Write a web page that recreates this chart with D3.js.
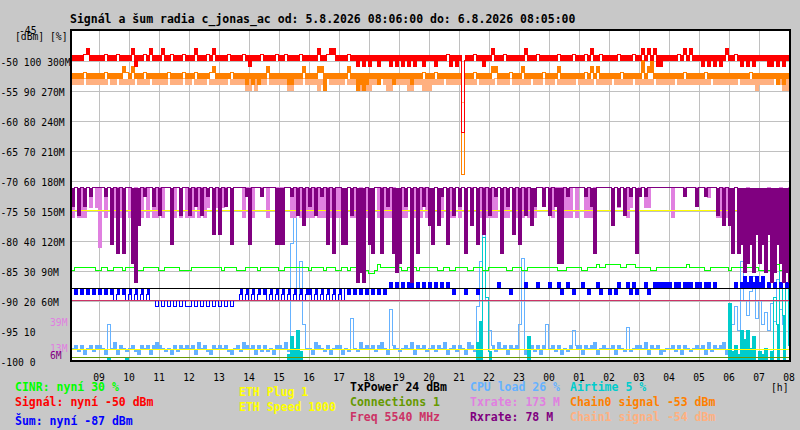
<!DOCTYPE html>
<html>
<head>
<meta charset="utf-8">
<script src="https://cdn.jsdelivr.net/npm/d3@7"></script>
<style>
  body { margin: 0; background: #c8c8c8; }
  text { font-family: "DejaVu Sans Mono", monospace; }
</style>
</head>
<body>
<svg id="chart" width="800" height="430"></svg>
<script>
// one sample every 6 minutes, 08:06 -> 08:06 next day (240 samples)
// each string = one hour block (first block 08:06-09:00 has 9 samples, last one 1)
const startTime = new Date(2026, 7, 5, 8, 6);
const endTime = new Date(2026, 7, 6, 8, 6);
const sampleMinutes = 6;

// Signál [dBm] = -47 - code
const signalCodes = ["333321333", "3323332333", "3143323133", "3133233323", "3313332313", "3332333323",
    "4333233332", "3323333233", "3331332113", "3332334343", "4334333434", "3434343343", "3343332434",
    "3f33323343", "3133323333", "3313332333", "3332333323", "3323133233", "3332333323", "3131314433",
    "3332313133", "3434343431", "3323434343", "3334434343", "3"];
// Chain0 / Chain1 [dBm] = -50 - code
const chain0Codes = ["333323333", "3323333312", "3133323333", "3332333323", "3323333213", "3333233334",
    "3434331333", "3334433313", "3331153333", "3331335454", "3334333343", "3333433323", "3323333333",
    "3j33323333", "3113333233", "3133333323", "3331333333", "3323131333", "3333233333", "3031033333",
    "3333323333", "3323333333", "3333333233", "3333334343", "3"];
const chain1Codes = ["444434444", "4443443444", "4434444344", "4443444434", "4344443444", "4443444445",
    "5454443444", "4445544434", "4445443444", "4434445555", "5444345544", "4445544455", "5444434444",
    "4744443444", "4434444344", "4444344434", "4434444443", "4444434444", "4344444434", "4444434444",
    "4434444444", "4444344444", "4443444445", "4444434455", "4"];
// Šum [dBm] = -85 - code
const noiseCodes = ["343434343", "4343454345", "4545454556", "5656565656", "6565656565", "6565655454",
    "5454345454", "5454545454", "4545454545", "4534343434", "3434343232", "3232132323", "2323232343",
    "3343334333", "3332333433", "3323332333", "2332432343", "3234332433", "4342332424", "3324322222",
    "2322322232", "2322323333", "3323212121", "2132323232", "2"];
// CINR [%] = 28 + code
const cinrCodes = ["233333332", "2332233323", "3332233333", "2233333222", "2333333333", "3233332223",
    "3332333333", "2233333333", "2333323332", "2332333332", "1124333333", "3223332333", "3332233223",
    "3332233322", "3333332233", "3223333333", "3332223333", "3223334334", "4444334443", "3333223333",
    "3333334333", "3322333333", "2333323333", "2222234222", "2"];
// Txrate [M] = 173 - 10 * code
const txrateCodes = ["303330202", "6030330330", "3303303033", "0300330303", "3303032022", "2200300030",
    "0300003000", "0000330333", "3303330333", "3330333033", "3303033303", "3330333303", "3303303330",
    "3030003303", "3330333033", "3303330000", "0300033303", "0033300000", "0202023202", "0022000000",
    "0300000000", "0001003303", "3303330333", "3330333033", "0"];
// Rxrate [M] = 173 - 9.5 * code
const rxrateCodes = ["203020100", "0010607070", "08a4010020", "3000600300", "3020301050", "5020600001",
    "6000100006", "6600103040", "2030106070", "066030a9a0", "6700702079", "8020a07020", "4604106030",
    "2070406050", "3010702050", "6030420020", "3028801000", "0010270000", "0402030107", "1010000000",
    "0000010002", "0010003040", "4707698695", "8695a968a9", "a"];
// CPU load [%] = code, plus peaks [sample, %]
const cpuCodes = ["453524535", "5423462543", "4532545256", "5434253545", "4526453254", "5453245365",
    "4525353425", "5463523454", "4265435245", "5243543645", "4535642354", "3454625453", "4535462453",
    "5426535464", "4536452545", "5424535254", "4535243545", "5254562454", "4525435345", "5462545234",
    "4535254345", "4526354562", "4535452545", "5254535452", "5"];
const cpuPeaks = [[12, 12], [73, 39], [74, 51], [75, 20], [76, 33], [77, 12], [93, 14], [106, 17],
    [135, 18], [136, 33], [137, 43], [138, 20], [139, 10], [149, 12], [150, 34], [158, 12], [167, 10],
    [185, 11], [220, 12], [221, 18], [222, 10], [223, 33], [224, 20], [225, 15], [226, 23], [227, 28],
    [228, 14], [229, 20], [230, 12], [231, 16], [232, 10], [233, 19], [234, 13], [235, 27], [236, 17],
    [237, 12], [238, 37], [239, 26]];
// Airtime [%] is 0 except these [sample, %]
const airtimePeaks = [[12, 1], [18, 1], [72, 2], [73, 8], [74, 4], [75, 10], [76, 3], [135, 6], [136, 13],
    [137, 41], [138, 21], [139, 3], [152, 8], [219, 19], [220, 3], [221, 5], [222, 2], [223, 10], [224, 7],
    [225, 10], [226, 4], [227, 8], [229, 3], [230, 2], [231, 4], [233, 3], [234, 21], [235, 12],
    [236, 30], [237, 15], [238, 25], [239, 5]];

// flat levels, on the % axis
const levelNames = ["txPower", "freq", "connections", "eth", "eth"];
const levelPct = [24, 20, 1, 50, 3.7];

// axis labels
const dbmTicks = [-50, -55, -60, -65, -70, -75, -80, -85, -90, -95, -100];
const pctTicks = [100, 90, 80, 70, 60, 50, 40, 30, 20, 10, 0];
const mbitTicks = [300, 270, 240, 210, 180, 150, 120, 90, 60];
const mbitMarkNames = ["txrate", "txrate", "rxrate"];
const mbitMarks = [39, 13, 6];

const title = "Signál a šum radia c_jonas_ac od: 5.8.2026 08:06:00 do: 6.8.2026 08:05:00";
const legendColumns = [
    [["cinr", "CINR: nyní 30 %"], ["signal", "Signál: nyní -50 dBm"], ["noise", "Šum: nyní -87 dBm"]],
    [["eth", "ETH Plug 1"], ["eth", "ETH Speed 1000"]],
    [["txPower", "TxPower 24 dBm"], ["connections", "Connections 1"], ["freq", "Freq 5540 MHz"]],
    [["cpu", "CPU load 26 %"], ["txrate", "Txrate: 173 M"], ["rxrate", "Rxrate: 78 M"]],
    [["airtime", "Airtime 5 %"], ["chain0", "Chain0 signal -53 dBm"], ["chain1", "Chain1 signal -54 dBm"]]
];

const colors = {
    cinr: "#00ff00", signal: "#ff0000", noise: "#0000ff", eth: "#ffff00", txPower: "#000000",
    connections: "#669900", freq: "#cc3366", cpu: "#66b2ff", txrate: "#e080e0", rxrate: "#800080",
    airtime: "#00cccc", chain0: "#ff8000", chain1: "#ffb080"
};

const decode = (codes, toValue) => codes.join("").split("").map(c => toValue(parseInt(c, 36)));
const withPeaks = (base, peaks) => {
    const out = base.slice();
    peaks.forEach(([i, v]) => out[i] = v);
    return out;
};

const signal = decode(signalCodes, d => -47 - d);
const chain0 = decode(chain0Codes, d => -50 - d);
const chain1 = decode(chain1Codes, d => -50 - d);
const noise = decode(noiseCodes, d => -85 - d);
const cinr = decode(cinrCodes, d => 28 + d);
const txrate = decode(txrateCodes, d => 173 - 10 * d);
const rxrate = decode(rxrateCodes, d => Math.round(173 - 9.5 * d));
const cpu = withPeaks(decode(cpuCodes, d => d), cpuPeaks);
const airtime = withPeaks(signal.map(() => 0), airtimePeaks);

const svg = d3.select("#chart");
const plot = { left: 71, top: 30, right: 790, bottom: 360 };

const x = d3.scaleTime().domain([startTime, endTime]).range([plot.left, plot.left + 720]);
const yDbm = d3.scaleLinear().domain([-100, -45]).range([plot.bottom, plot.top]);
const yPct = d3.scaleLinear().domain([0, 100]).range([plot.bottom, 60]);
const yMbit = d3.scaleLinear().domain([0, 300]).range([plot.bottom, 60]);

const sampleTime = i => new Date(+startTime + i * sampleMinutes * 60000);

svg.append("rect")
    .attr("x", plot.left).attr("y", plot.top)
    .attr("width", plot.right - plot.left).attr("height", plot.bottom - plot.top)
    .attr("fill", "#ffffff");

svg.append("defs").append("clipPath").attr("id", "plot-clip")
    .append("rect")
    .attr("x", plot.left).attr("y", plot.top)
    .attr("width", plot.right - plot.left).attr("height", plot.bottom - plot.top);

// grid
svg.append("g")
    .attr("transform", `translate(0.5,${plot.bottom + 0.5})`)
    .call(d3.axisBottom(x).ticks(d3.timeHour.every(1)).tickSize(-(plot.bottom - plot.top)).tickFormat(""))
    .call(g => g.select(".domain").remove())
    .call(g => g.selectAll("text").remove())
    .selectAll("line").attr("stroke", "#c0c0c0").attr("shape-rendering", "crispEdges");

svg.append("g")
    .attr("transform", `translate(${plot.left},0.5)`)
    .call(d3.axisLeft(yDbm).tickValues(dbmTicks.slice(0, -1)).tickSize(-(plot.right - plot.left)).tickFormat(""))
    .call(g => g.select(".domain").remove())
    .call(g => g.selectAll("text").remove())
    .selectAll("line").attr("stroke", "#c0c0c0").attr("shape-rendering", "crispEdges");

// data
const chartArea = svg.append("g")
    .attr("clip-path", "url(#plot-clip)")
    .append("g")
    .attr("transform", "translate(0.5,0.5)");

// step line; with a base value the gap between base and line is filled too,
// only for samples inside [lo, hi] (single spikes beyond stay thin lines)
const drawStep = (values, y, color, base, lo = -Infinity, hi = Infinity) => {
    const points = values.map((v, i) => ({ t: sampleTime(i), v }));
    points.push({ t: endTime, v: values[values.length - 1] });
    if (base !== undefined) {
        chartArea.append("path")
            .attr("d", d3.area().curve(d3.curveStepAfter)
                .x(d => x(d.t)).y0(Math.round(y(base)))
                .y1(d => Math.round(y(d.v >= lo && d.v <= hi ? d.v : base)))(points))
            .attr("fill", color)
            .attr("shape-rendering", "crispEdges");
    }
    chartArea.append("path")
        .attr("d", d3.line().curve(d3.curveStepAfter).x(d => x(d.t)).y(d => Math.round(y(d.v)))(points))
        .attr("fill", "none")
        .attr("stroke", color)
        .attr("stroke-width", 1)
        .attr("shape-rendering", "crispEdges");
};

drawStep(cpu, yPct, colors.cpu, 4, 1, 7);
drawStep(airtime, yPct, colors.airtime, 0, 0, 20);
drawStep(noise, yDbm, colors.noise, -88, -89, -86);
drawStep(cinr, yPct, colors.cinr);
drawStep(txrate, yMbit, colors.txrate, 173);

chartArea.selectAll(".level")
    .data(levelNames.map((name, i) => ({ name, pct: levelPct[i] })))
    .join("line")
    .attr("class", "level")
    .attr("x1", x(startTime)).attr("x2", x(endTime))
    .attr("y1", d => Math.round(yPct(d.pct))).attr("y2", d => Math.round(yPct(d.pct)))
    .attr("stroke", d => colors[d.name])
    .attr("shape-rendering", "crispEdges");

drawStep(rxrate, yMbit, colors.rxrate, 173);
drawStep(chain1, yDbm, colors.chain1, -53, -56, -52);
drawStep(chain0, yDbm, colors.chain0, -52, -55, -50);
drawStep(signal, yDbm, colors.signal, -49, -51, -47);

// frame
svg.append("rect")
    .attr("x", plot.left).attr("y", plot.top)
    .attr("width", plot.right - plot.left).attr("height", plot.bottom - plot.top + 1)
    .attr("fill", "none").attr("stroke", "#000").attr("stroke-width", 2);

// x labels
svg.append("g")
    .attr("transform", `translate(0.5,371)`)
    .call(d3.axisBottom(x).ticks(d3.timeHour.every(1)).tickSize(0).tickFormat(d3.timeFormat("%H")))
    .call(g => g.select(".domain").remove())
    .call(g => g.selectAll("text").attr("font-family", "DejaVu Sans Mono").attr("font-size", 9.7).attr("fill", "#000"));

svg.append("text").attr("x", 771).attr("y", 391).attr("font-size", 9.7).text("[h]");

// y labels: dBm, %, M in one string
svg.append("g")
    .attr("transform", `translate(${plot.left},0)`)
    .call(d3.axisLeft(yDbm).tickValues(dbmTicks).tickSize(0)
        .tickFormat((d, i) => [d, pctTicks[i]].concat(i < mbitTicks.length ? [mbitTicks[i] + "M"] : []).join(" ")))
    .call(g => g.select(".domain").remove())
    .call(g => g.selectAll("text")
        .attr("x", -plot.left + 0.5).attr("dy", "0.52em").attr("text-anchor", "start")
        .attr("font-family", "DejaVu Sans Mono").attr("font-size", 9.7).attr("fill", "#000"));

svg.append("text").attr("x", 19).attr("y", yDbm(-45) + 4).attr("font-size", 9.7).text("-45");
svg.append("text").attr("x", 15).attr("y", 40).attr("font-size", 9.7).text("[dBm] [%]");

svg.selectAll(".mbit-mark")
    .data(mbitMarks)
    .join("text")
    .attr("class", "mbit-mark")
    .attr("x", 50)
    .attr("y", d => yMbit(d) + 5)
    .attr("font-size", 9.7)
    .attr("fill", (d, i) => colors[mbitMarkNames[i]])
    .text(d => d + "M");

// title
svg.append("text")
    .attr("x", 70).attr("y", 23)
    .attr("font-size", 11.5).attr("font-weight", "bold")
    .text(title);

// legend
const legendX = [15, 239, 350, 470, 570];
const legendY = [[391, 406, 425], [396, 411], [391, 406, 421], [391, 406, 421], [391, 406, 421]];
legendColumns.forEach((column, c) => {
    svg.selectAll(`.legend-${c}`)
        .data(column)
        .join("text")
        .attr("class", `legend-${c}`)
        .attr("x", legendX[c])
        .attr("y", (d, r) => legendY[c][r])
        .attr("font-size", 11.5)
        .attr("font-weight", "bold")
        .attr("fill", d => colors[d[0]])
        .text(d => d[1]);
});
</script>
</body>
</html>
